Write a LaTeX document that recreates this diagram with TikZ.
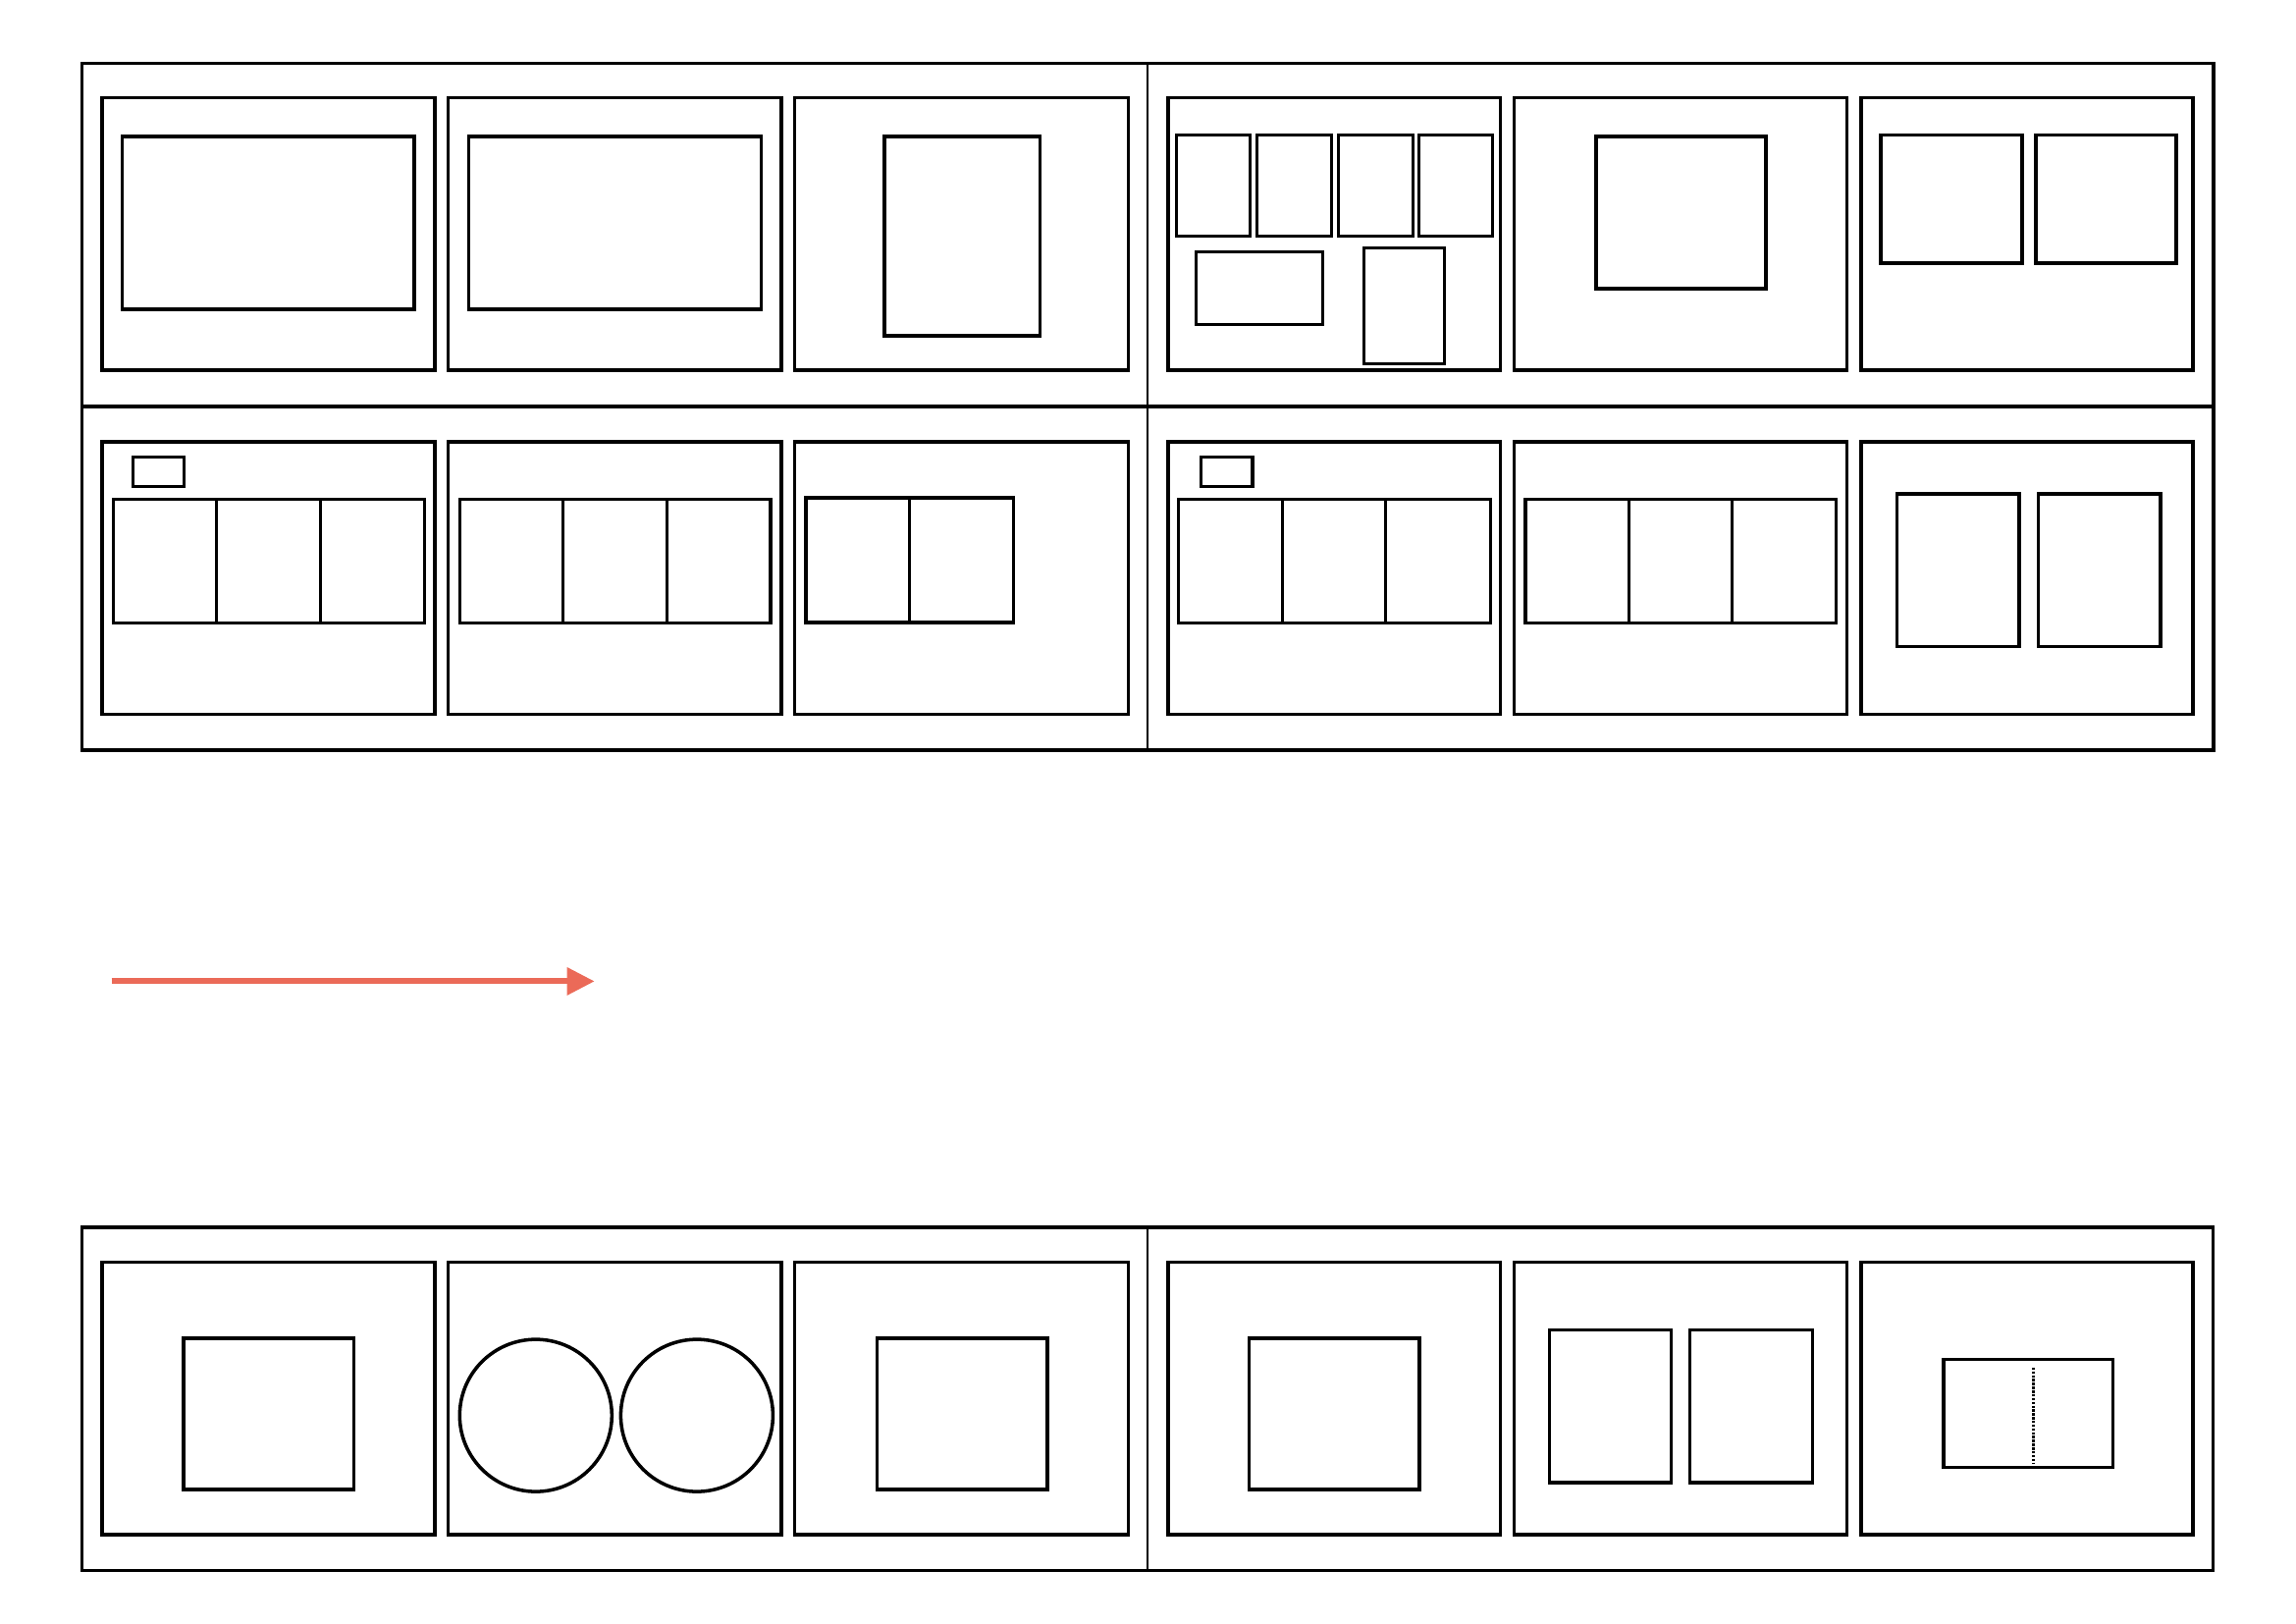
\documentclass[tikz,border=0pt]{standalone}
\usetikzlibrary{arrows.meta}
\definecolor{arrowred}{RGB}{235,106,88}
\tikzset{
  frame/.style={draw=black,line width=0.95pt},
  divider/.style={draw=black,line width=0.65pt},
  panel/.style={draw=black,line width=1pt},
  item/.style={draw=black,line width=1pt},
  smallitem/.style={draw=black,line width=0.85pt},
  split/.style={draw=black,line width=0.85pt},
  dotline/.style={draw=black,line width=0.8pt,dash pattern=on 0.7pt off 0.4pt},
  redarrow/.style={draw=arrowred,line width=1.7pt,-{Triangle[length=0.28cm,width=0.27cm]}}
}
\begin{document}
\begin{tikzpicture}[x=0.01cm,y=-0.01cm]
\useasboundingbox (0,0) rectangle (2339,1653);
\fill[white] (0,0) rectangle (2339,1653);

% ---------- top section ----------
\draw[frame] (83.6,64.6) rectangle (2255,764);
\draw[frame] (83.6,413.9) -- (2255,413.9);
\draw[divider] (1169.3,64.6) -- (1169.3,764);

% panels, top row and bottom row
\foreach \xa/\xb in {104/443,456.7/796,809.6/1149.3,1190/1528.5,1542.3/1881.4,1896/2234.2}{
  \draw[panel] (\xa,99.6) rectangle (\xb,377);
  \draw[panel] (\xa,450.2) rectangle (\xb,727.7);
}

% top row contents
\draw[item] (124.7,139.2) rectangle (422,315.2);
\draw[item] (477.6,139.2) rectangle (775.4,315.2);
\draw[item] (900.8,139.2) rectangle (1059.4,342.1);
\draw[smallitem] (1198.1,137.3) rectangle (1273.2,240.2);
\draw[smallitem] (1280.2,137.3) rectangle (1356.2,240.2);
\draw[smallitem] (1363.3,137.3) rectangle (1439.3,240.2);
\draw[smallitem] (1445.7,137.3) rectangle (1520.2,240.2);
\draw[smallitem] (1218.4,256.2) rectangle (1347.3,330.3);
\draw[smallitem] (1389.2,252) rectangle (1471.4,370);
\draw[item] (1625.8,139.2) rectangle (1799,294);
\draw[item] (1916,137.3) rectangle (2060,268);
\draw[item] (2074.1,137.3) rectangle (2217.1,268);

% bottom row contents
\draw[item] (135.5,465.3) rectangle (187.4,495.5);
\draw[item] (115.7,508.7) rectangle (432.4,634.7);
\draw[split] (220.9,508.7) -- (220.9,634.7);
\draw[split] (326.6,508.7) -- (326.6,634.7);

\draw[item] (468.7,508.7) rectangle (784.9,634.7);
\draw[split] (573.5,508.7) -- (573.5,634.7);
\draw[split] (679.2,508.7) -- (679.2,634.7);

\draw[item] (821,506.8) rectangle (1032.5,634.2);
\draw[split] (926.8,506.8) -- (926.8,634.2);

\draw[item] (1223.6,465.3) rectangle (1276,495.5);
\draw[item] (1200.5,508.7) rectangle (1518.6,634.7);
\draw[split] (1306.7,508.7) -- (1306.7,634.7);
\draw[split] (1411.4,508.7) -- (1411.4,634.7);

\draw[item] (1554,508.7) rectangle (1870.3,634.7);
\draw[split] (1659.3,508.7) -- (1659.3,634.7);
\draw[split] (1764.5,508.7) -- (1764.5,634.7);

\draw[item] (1932.6,503) rectangle (2057.1,658.3);
\draw[item] (2076.5,503) rectangle (2201.1,658.3);

% ---------- arrow ----------
\coordinate (arrowstart) at (113.7,999.4);
\coordinate (arrowend) at (605.7,999.4);
\draw[redarrow] (arrowstart) -- (arrowend);

% ---------- bottom section ----------
\draw[frame] (83.4,1250.1) rectangle (2254.8,1599.3);
\draw[divider] (1169.1,1250.1) -- (1169.1,1599.3);
\foreach \xa/\xb in {104/443,456.7/796,809.6/1149.3,1190/1528.5,1542.3/1881.4,1896/2234.2}{
  \draw[panel] (\xa,1285.4) rectangle (\xb,1563);
}
\draw[item] (186.8,1363) rectangle (360.5,1517.2);
\draw[item] (545.8,1441.6) circle[radius=77.5];
\draw[item] (709.9,1441.6) circle[radius=77.5];
\draw[item] (893.5,1363) rectangle (1067.1,1517.2);
\draw[item] (1272.6,1363) rectangle (1446.2,1517.2);
\draw[item] (1578.3,1354.5) rectangle (1702.6,1510.2);
\draw[item] (1721.5,1354.5) rectangle (1846.4,1510.2);
\draw[item] (1980.2,1384.4) rectangle (2152.3,1494.3);
\draw[dotline] (2071.2,1392.8) -- (2071.2,1489.8);
\end{tikzpicture}
\end{document}
